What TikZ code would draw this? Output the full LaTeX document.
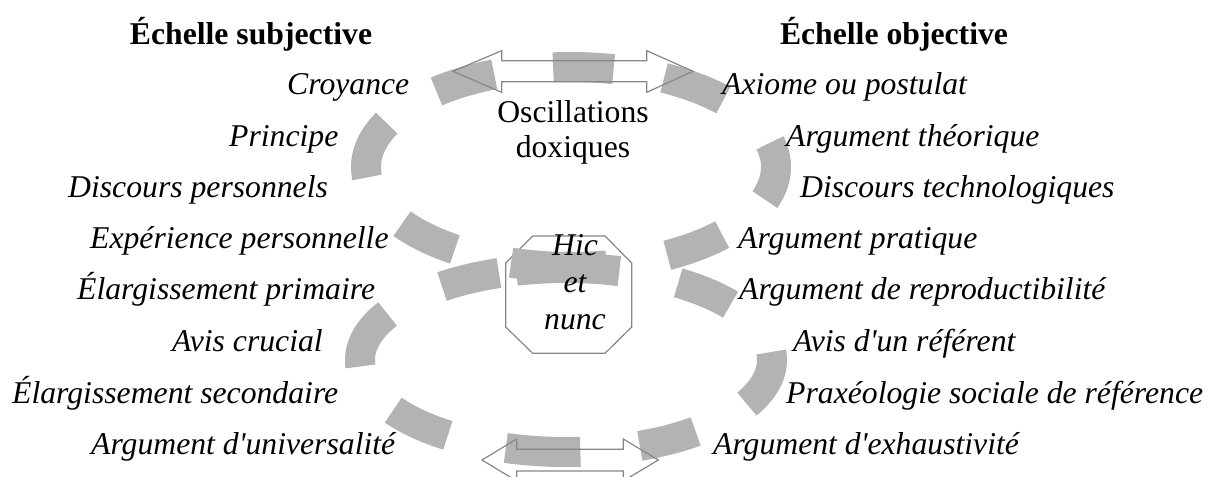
\documentclass[tikz,border=0pt]{standalone}
\usepackage{fontspec}
\newfontfamily\tnr{Liberation Serif}
\definecolor{dashgray}{RGB}{179,179,179}
\definecolor{linegray}{RGB}{135,135,135}
\newcommand\topring[2]{\draw[dashpiece] plot[domain=#1:#2, samples=30, variable=\t] ({571+205*cos(\t)},{167-100*sin(\t)});}
\newcommand\botring[2]{\draw[dashpiece] plot[domain=#1:#2, samples=30, variable=\t] ({566+206*cos(\t)},{360-92*sin(\t)});}
\begin{document}
\begin{tikzpicture}[x=1bp,y=-1bp,
  lbl/.style={font=\tnr\fontsize{31.7bp}{37bp}\selectfont\itshape, inner sep=0pt, anchor=base west},
  ctr/.style={font=\tnr\fontsize{31.7bp}{37bp}\selectfont\itshape, inner sep=0pt, anchor=base},
  plain/.style={font=\tnr\fontsize{31.7bp}{37bp}\selectfont, inner sep=0pt, anchor=base},
  head/.style={font=\tnr\fontsize{31.7bp}{37bp}\selectfont\bfseries, inner sep=0pt, anchor=base},
  dashpiece/.style={line width=30bp, draw=dashgray, line cap=butt},
  outl/.style={draw=linegray, line width=1.2bp, line join=miter}]
\useasboundingbox (0,0) rectangle (1209,477);
% octagon
\draw[outl, fill=white] (532.7,236) -- (605,236) -- (631.7,263) -- (631.7,327) -- (605,353.3) -- (532.7,353.3) -- (505.7,327) -- (505.7,263) -- cycle;
% dashed rings
\foreach \a/\b in {78/95, 112/131, 154/186, 214.5/235.5, 253/280, 298/317.5, 341/374, 42/63} {\topring{\a}{\b}}
\foreach \a/\b in {37/57, -28.6/5, -69/-51, -107/-86, 213/235, 150/184, 109/127, 75/104} {\botring{\a}{\b}}
% double arrows
\draw[outl] (453,71.3) -- (501.7,50.7) -- (501.7,60.7) -- (646.7,60.7) -- (646.7,50.7) -- (693,71.3) -- (646.7,92.3) -- (646.7,81.7) -- (501.7,81.7) -- (501.7,92.3) -- cycle;
\draw[outl] (482,460) -- (516.7,439) -- (516.7,449.3) -- (623.3,449.3) -- (623.3,439) -- (658.3,460) -- (623.3,481) -- (623.3,471) -- (516.7,471) -- (516.7,481) -- cycle;
% headings
\node[head] (hsub) at (251,45) {Échelle subjective};
\node[head] (hobj) at (894,45) {Échelle objective};
% centre texts
\node[plain] (osc1) at (573,122.7) {Oscillations};
\node[plain] (osc2) at (573,158) {doxiques};
\node[ctr] (hic) at (575,256) {Hic};
\node[ctr] (et) at (575,293) {et};
\node[ctr] (nunc) at (575,330) {nunc};
% left column
\node[lbl] (l1) at (287,95) {Croyance};
\node[lbl] (l2) at (229,147) {Principe};
\node[lbl] (l3) at (68,198) {Discours personnels};
\node[lbl] (l4) at (90,249) {Expérience personnelle};
\node[lbl] (l5) at (77,300) {Élargissement primaire};
\node[lbl] (l6) at (172,351.5) {Avis crucial};
\node[lbl] (l7) at (12,403) {Élargissement secondaire};
\node[lbl] (l8) at (91,454) {Argument d'universalité};
% right column
\node[lbl] (r1) at (722,95) {Axiome ou postulat};
\node[lbl] (r2) at (786,147) {Argument théorique};
\node[lbl] (r3) at (800,198) {Discours technologiques};
\node[lbl] (r4) at (738,249) {Argument pratique};
\node[lbl] (r5) at (739,300) {Argument de reproductibilité};
\node[lbl] (r6) at (793,351.5) {Avis d'un référent};
\node[lbl] (r7) at (786,403) {Praxéologie sociale de référence};
\node[lbl] (r8) at (713,454) {Argument d'exhaustivité};
\end{tikzpicture}
\end{document}
